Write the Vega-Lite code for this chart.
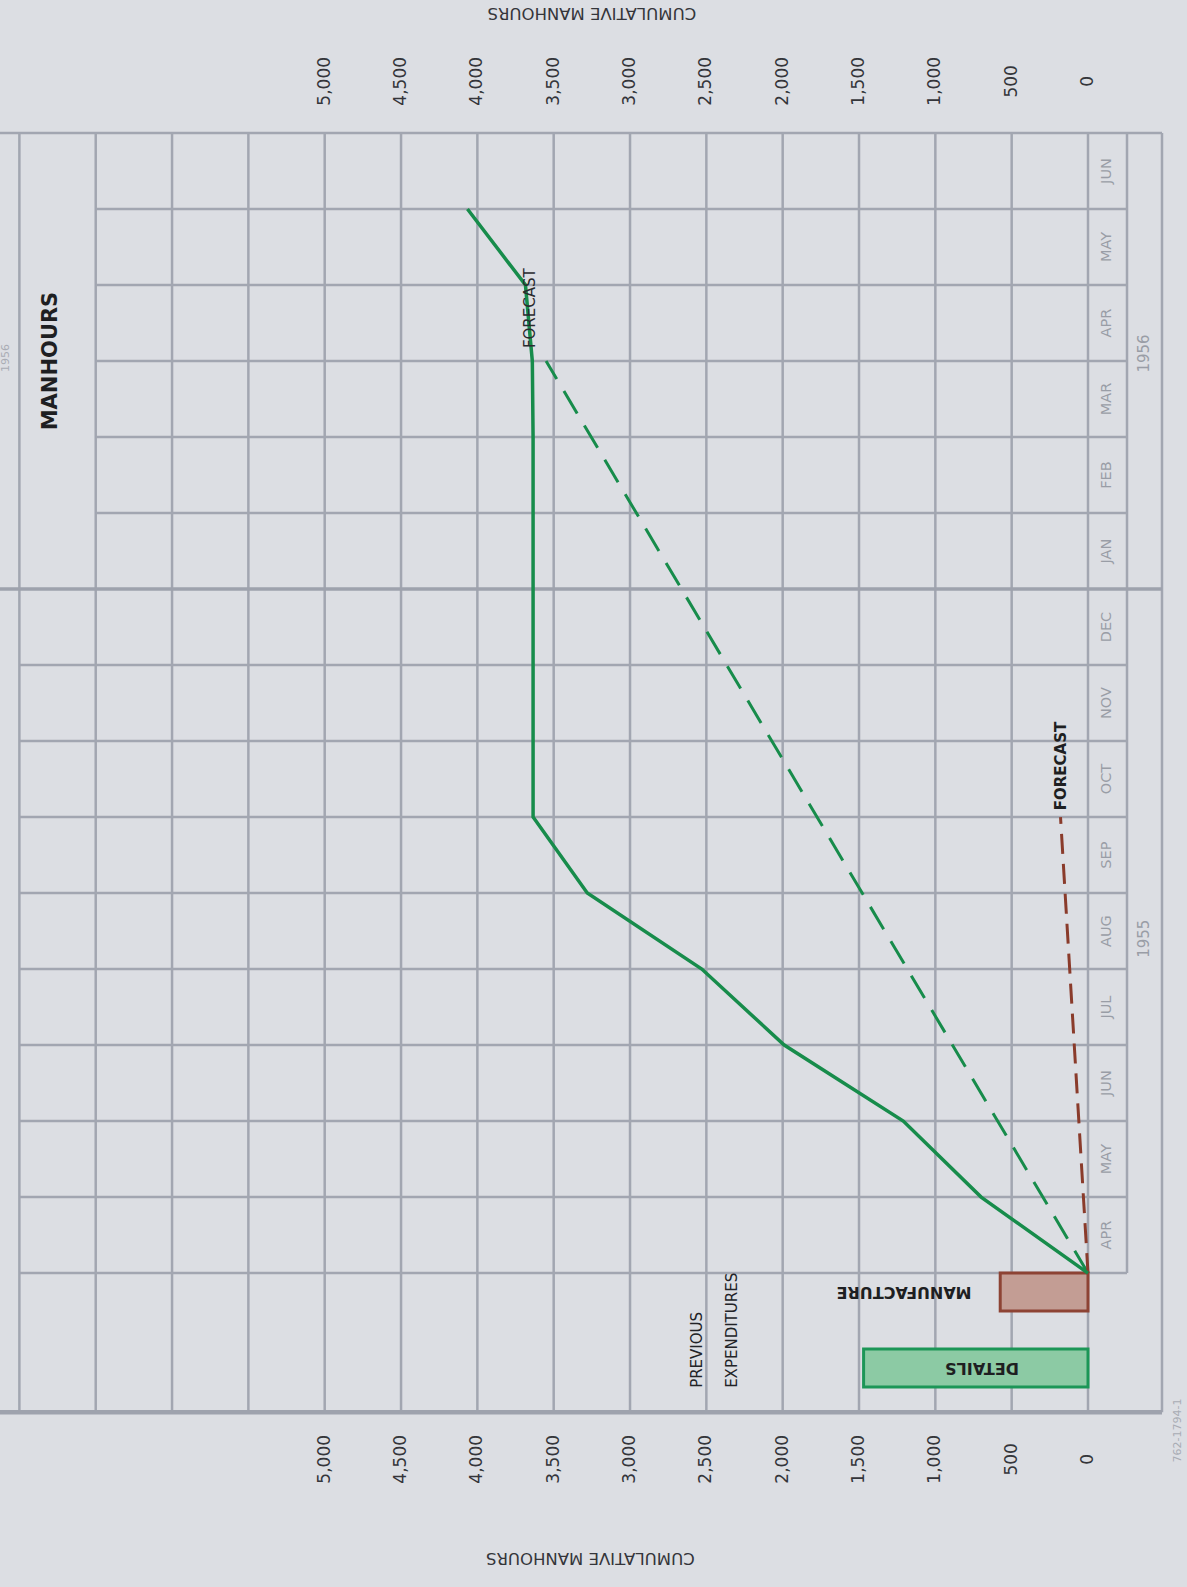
{
  "$schema": "https://vega.github.io/schema/vega-lite/v6.json",
  "width": 1187,
  "height": 1587,
  "padding": 0,
  "autosize": {"type": "none"},
  "background": "#dcdee3",
  "config": {"view": {"stroke": null}, "text": {"font": "DejaVu Sans"}},
  "datasets": {
    "vgrid": [
      {"v": 7000, "m": -1.83, "m2": 15}, {"v": 6500, "m": -1.83, "m2": 15}, {"v": 6000, "m": -1.83, "m2": 15},
      {"v": 5500, "m": -1.83, "m2": 15}, {"v": 5000, "m": -1.83, "m2": 15}, {"v": 4500, "m": -1.83, "m2": 15},
      {"v": 4000, "m": -1.83, "m2": 15}, {"v": 3500, "m": -1.83, "m2": 15}, {"v": 3000, "m": -1.83, "m2": 15},
      {"v": 2500, "m": -1.83, "m2": 15}, {"v": 2000, "m": -1.83, "m2": 15}, {"v": 1500, "m": -1.83, "m2": 15},
      {"v": 1000, "m": -1.83, "m2": 15}, {"v": 500, "m": -1.83, "m2": 15}, {"v": 0, "m": -1.83, "m2": 15},
      {"v": -255.5, "m": 0, "m2": 15}, {"v": -484.7, "m": -1.83, "m2": 15}
    ],
    "hgrid": [
      {"m": 15, "v": 7127, "v2": -484.7},
      {"m": 14, "v": 6500, "v2": -255.5}, {"m": 13, "v": 6500, "v2": -255.5}, {"m": 12, "v": 6500, "v2": -255.5},
      {"m": 11, "v": 6500, "v2": -255.5}, {"m": 10, "v": 6500, "v2": -255.5},
      {"m": 8, "v": 7000, "v2": -255.5}, {"m": 7, "v": 7000, "v2": -255.5}, {"m": 6, "v": 7000, "v2": -255.5},
      {"m": 5, "v": 7000, "v2": -255.5}, {"m": 4, "v": 7000, "v2": -255.5}, {"m": 3, "v": 7000, "v2": -255.5},
      {"m": 2, "v": 7000, "v2": -255.5}, {"m": 1, "v": 7000, "v2": -255.5}, {"m": 0, "v": 7000, "v2": -255.5}
    ],
    "ticks": [
      {"v": 0, "label": "0"}, {"v": 500, "label": "500"}, {"v": 1000, "label": "1,000"},
      {"v": 1500, "label": "1,500"}, {"v": 2000, "label": "2,000"}, {"v": 2500, "label": "2,500"},
      {"v": 3000, "label": "3,000"}, {"v": 3500, "label": "3,500"}, {"v": 4000, "label": "4,000"},
      {"v": 4500, "label": "4,500"}, {"v": 5000, "label": "5,000"}
    ]
  },
  "layer": [
    {
      "data": {"name": "vgrid"},
      "mark": {"type": "rule", "color": "#a2a6b1", "strokeWidth": 2.5},
      "encoding": {
        "x": {"field": "v", "type": "quantitative", "scale": {"domain": [-648.5, 7127], "reverse": true, "nice": false, "zero": false}, "axis": null},
        "y": {"field": "m", "type": "quantitative", "scale": {"domain": [-4.13, 16.75], "nice": false, "zero": false}, "axis": null},
        "y2": {"field": "m2"}
      }
    },
    {
      "data": {"name": "hgrid"},
      "mark": {"type": "rule", "color": "#a2a6b1", "strokeWidth": 2.5},
      "encoding": {
        "x": {"field": "v", "type": "quantitative", "scale": {"domain": [-648.5, 7127], "reverse": true, "nice": false, "zero": false}, "axis": null},
        "x2": {"field": "v2"},
        "y": {"field": "m", "type": "quantitative", "scale": {"domain": [-4.13, 16.75], "nice": false, "zero": false}, "axis": null}
      }
    },
    {
      "data": {"values": [{"m": 9, "v": 7127, "v2": -484.7}]},
      "mark": {"type": "rule", "color": "#9ea2ad", "strokeWidth": 3.5},
      "encoding": {
        "x": {"field": "v", "type": "quantitative", "scale": {"domain": [-648.5, 7127], "reverse": true, "nice": false, "zero": false}, "axis": null},
        "x2": {"field": "v2"},
        "y": {"field": "m", "type": "quantitative", "scale": {"domain": [-4.13, 16.75], "nice": false, "zero": false}, "axis": null}
      }
    },
    {
      "data": {"values": [{"m": -1.83, "v": 7127, "v2": -484.7}]},
      "mark": {"type": "rule", "color": "#9ea2ad", "strokeWidth": 4.5},
      "encoding": {
        "x": {"field": "v", "type": "quantitative", "scale": {"domain": [-648.5, 7127], "reverse": true, "nice": false, "zero": false}, "axis": null},
        "x2": {"field": "v2"},
        "y": {"field": "m", "type": "quantitative", "scale": {"domain": [-4.13, 16.75], "nice": false, "zero": false}, "axis": null}
      }
    },
    {
      "data": {"values": [
        {"item": "MANUFACTURE", "v": 0, "v2": 575, "m": 0, "m2": -0.5},
        {"item": "DETAILS", "v": 0, "v2": 1470, "m": -1.0, "m2": -1.5}
      ]},
      "mark": {"type": "rect", "strokeWidth": 3},
      "encoding": {
        "x": {"field": "v", "type": "quantitative", "scale": {"domain": [-648.5, 7127], "reverse": true, "nice": false, "zero": false}, "axis": null},
        "x2": {"field": "v2"},
        "y": {"field": "m", "type": "quantitative", "scale": {"domain": [-4.13, 16.75], "nice": false, "zero": false}, "axis": null},
        "y2": {"field": "m2"},
        "fill": {"field": "item", "type": "nominal", "scale": {"domain": ["DETAILS", "MANUFACTURE"], "range": ["#8ccaa4", "#c39d94"]}, "legend": null},
        "stroke": {"field": "item", "type": "nominal", "scale": {"domain": ["DETAILS", "MANUFACTURE"], "range": ["#1c9657", "#8d4334"]}, "legend": null}
      }
    },
    {
      "data": {"values": [{"v": 0, "m": 0}, {"v": 3550, "m": 12}]},
      "mark": {"type": "line", "color": "#178c4b", "strokeWidth": 3, "strokeDash": [26, 14]},
      "encoding": {
        "x": {"field": "v", "type": "quantitative", "scale": {"domain": [-648.5, 7127], "reverse": true, "nice": false, "zero": false}, "axis": null},
        "y": {"field": "m", "type": "quantitative", "scale": {"domain": [-4.13, 16.75], "nice": false, "zero": false}, "axis": null},
        "order": {"field": "m", "type": "quantitative"}
      }
    },
    {
      "data": {"values": [{"v": 0, "m": 0}, {"v": 180, "m": 6}]},
      "mark": {"type": "line", "color": "#8a3b2b", "strokeWidth": 3, "strokeDash": [20, 10]},
      "encoding": {
        "x": {"field": "v", "type": "quantitative", "scale": {"domain": [-648.5, 7127], "reverse": true, "nice": false, "zero": false}, "axis": null},
        "y": {"field": "m", "type": "quantitative", "scale": {"domain": [-4.13, 16.75], "nice": false, "zero": false}, "axis": null},
        "order": {"field": "m", "type": "quantitative"}
      }
    },
    {
      "data": {"values": [
        {"v": 0, "m": 0}, {"v": 700, "m": 1}, {"v": 1210, "m": 2}, {"v": 1990, "m": 3},
        {"v": 2530, "m": 4}, {"v": 3280, "m": 5}, {"v": 3635, "m": 6}, {"v": 3635, "m": 7},
        {"v": 3635, "m": 8}, {"v": 3635, "m": 9}, {"v": 3635, "m": 10}, {"v": 3635, "m": 11},
        {"v": 3640, "m": 12}, {"v": 3685, "m": 13}, {"v": 4065, "m": 14}
      ]},
      "mark": {"type": "line", "color": "#178c4b", "strokeWidth": 3.5},
      "encoding": {
        "x": {"field": "v", "type": "quantitative", "scale": {"domain": [-648.5, 7127], "reverse": true, "nice": false, "zero": false}, "axis": null},
        "y": {"field": "m", "type": "quantitative", "scale": {"domain": [-4.13, 16.75], "nice": false, "zero": false}, "axis": null},
        "order": {"field": "m", "type": "quantitative"}
      }
    },
    {
      "data": {"name": "ticks"},
      "mark": {"type": "text", "angle": 270, "fontSize": 17, "color": "#34353a", "align": "center", "baseline": "middle"},
      "encoding": {
        "x": {"field": "v", "type": "quantitative", "scale": {"domain": [-648.5, 7127], "reverse": true, "nice": false, "zero": false}, "axis": null},
        "y": {"datum": 15.68, "type": "quantitative", "scale": {"domain": [-4.13, 16.75], "nice": false, "zero": false}, "axis": null},
        "text": {"field": "label"}
      }
    },
    {
      "data": {"name": "ticks"},
      "mark": {"type": "text", "angle": 270, "fontSize": 17, "color": "#34353a", "align": "center", "baseline": "middle"},
      "encoding": {
        "x": {"field": "v", "type": "quantitative", "scale": {"domain": [-648.5, 7127], "reverse": true, "nice": false, "zero": false}, "axis": null},
        "y": {"datum": -2.45, "type": "quantitative", "scale": {"domain": [-4.13, 16.75], "nice": false, "zero": false}, "axis": null},
        "text": {"field": "label"}
      }
    },
    {
      "data": {"values": [
        {"label": "CUMULATIVE MANHOURS", "v": 3250, "m": 16.58},
        {"label": "CUMULATIVE MANHOURS", "v": 3260, "m": -3.75}
      ]},
      "mark": {"type": "text", "angle": 180, "fontSize": 16.5, "color": "#34353a", "align": "center", "baseline": "middle"},
      "encoding": {
        "x": {"field": "v", "type": "quantitative", "scale": {"domain": [-648.5, 7127], "reverse": true, "nice": false, "zero": false}, "axis": null},
        "y": {"field": "m", "type": "quantitative", "scale": {"domain": [-4.13, 16.75], "nice": false, "zero": false}, "axis": null},
        "text": {"field": "label"}
      }
    },
    {
      "data": {"values": [
        {"label": "APR", "m": 0.5}, {"label": "MAY", "m": 1.5}, {"label": "JUN", "m": 2.5},
        {"label": "JUL", "m": 3.5}, {"label": "AUG", "m": 4.5}, {"label": "SEP", "m": 5.5},
        {"label": "OCT", "m": 6.5}, {"label": "NOV", "m": 7.5}, {"label": "DEC", "m": 8.5},
        {"label": "JAN", "m": 9.5}, {"label": "FEB", "m": 10.5}, {"label": "MAR", "m": 11.5},
        {"label": "APR", "m": 12.5}, {"label": "MAY", "m": 13.5}, {"label": "JUN", "m": 14.5}
      ]},
      "mark": {"type": "text", "angle": 270, "fontSize": 14.5, "color": "#999da6", "align": "center", "baseline": "middle"},
      "encoding": {
        "x": {"datum": -127.7, "type": "quantitative", "scale": {"domain": [-648.5, 7127], "reverse": true, "nice": false, "zero": false}, "axis": null},
        "y": {"field": "m", "type": "quantitative", "scale": {"domain": [-4.13, 16.75], "nice": false, "zero": false}, "axis": null},
        "text": {"field": "label"}
      }
    },
    {
      "data": {"values": [{"label": "1955", "m": 4.4}, {"label": "1956", "m": 12.1}]},
      "mark": {"type": "text", "angle": 270, "fontSize": 15, "color": "#999da6", "align": "center", "baseline": "middle"},
      "encoding": {
        "x": {"datum": -370, "type": "quantitative", "scale": {"domain": [-648.5, 7127], "reverse": true, "nice": false, "zero": false}, "axis": null},
        "y": {"field": "m", "type": "quantitative", "scale": {"domain": [-4.13, 16.75], "nice": false, "zero": false}, "axis": null},
        "text": {"field": "label"}
      }
    },
    {
      "data": {"values": [{"label": "1956", "v": 7085, "m": 12.04}, {"label": "762-1794-1", "v": -590, "m": -2.07}]},
      "mark": {"type": "text", "angle": 270, "fontSize": 11, "color": "#a9acb4", "align": "center", "baseline": "middle"},
      "encoding": {
        "x": {"field": "v", "type": "quantitative", "scale": {"domain": [-648.5, 7127], "reverse": true, "nice": false, "zero": false}, "axis": null},
        "y": {"field": "m", "type": "quantitative", "scale": {"domain": [-4.13, 16.75], "nice": false, "zero": false}, "axis": null},
        "text": {"field": "label"}
      }
    },
    {
      "data": {"values": [{"label": "MANHOURS", "v": 6793, "m": 12.0}]},
      "mark": {"type": "text", "angle": 270, "fontSize": 21, "fontWeight": "bold", "color": "#1e1f22", "align": "center", "baseline": "middle"},
      "encoding": {
        "x": {"field": "v", "type": "quantitative", "scale": {"domain": [-648.5, 7127], "reverse": true, "nice": false, "zero": false}, "axis": null},
        "y": {"field": "m", "type": "quantitative", "scale": {"domain": [-4.13, 16.75], "nice": false, "zero": false}, "axis": null},
        "text": {"field": "label"}
      }
    },
    {
      "data": {"values": [{"label": "PREVIOUS", "v": 2561, "m": -1.51}, {"label": "EXPENDITURES", "v": 2332, "m": -1.51}]},
      "mark": {"type": "text", "angle": 270, "fontSize": 15, "color": "#222327", "align": "left", "baseline": "middle"},
      "encoding": {
        "x": {"field": "v", "type": "quantitative", "scale": {"domain": [-648.5, 7127], "reverse": true, "nice": false, "zero": false}, "axis": null},
        "y": {"field": "m", "type": "quantitative", "scale": {"domain": [-4.13, 16.75], "nice": false, "zero": false}, "axis": null},
        "text": {"field": "label"}
      }
    },
    {
      "data": {"values": [{"label": "MANUFACTURE", "v": 1205, "m": -0.25}, {"label": "DETAILS", "v": 694, "m": -1.25}]},
      "mark": {"type": "text", "angle": 180, "fontSize": 16, "fontWeight": "bold", "color": "#1e1f22", "align": "center", "baseline": "middle"},
      "encoding": {
        "x": {"field": "v", "type": "quantitative", "scale": {"domain": [-648.5, 7127], "reverse": true, "nice": false, "zero": false}, "axis": null},
        "y": {"field": "m", "type": "quantitative", "scale": {"domain": [-4.13, 16.75], "nice": false, "zero": false}, "axis": null},
        "text": {"field": "label"}
      }
    },
    {
      "data": {"values": [{"label": "FORECAST", "v": 177, "m": 6.09}]},
      "mark": {"type": "text", "angle": 270, "fontSize": 15, "fontWeight": "bold", "color": "#1e1f22", "align": "left", "baseline": "middle"},
      "encoding": {
        "x": {"field": "v", "type": "quantitative", "scale": {"domain": [-648.5, 7127], "reverse": true, "nice": false, "zero": false}, "axis": null},
        "y": {"field": "m", "type": "quantitative", "scale": {"domain": [-4.13, 16.75], "nice": false, "zero": false}, "axis": null},
        "text": {"field": "label"}
      }
    },
    {
      "data": {"values": [{"label": "FORECAST", "v": 3655, "m": 12.17}]},
      "mark": {"type": "text", "angle": 270, "fontSize": 15, "color": "#2a2b2f", "align": "left", "baseline": "middle"},
      "encoding": {
        "x": {"field": "v", "type": "quantitative", "scale": {"domain": [-648.5, 7127], "reverse": true, "nice": false, "zero": false}, "axis": null},
        "y": {"field": "m", "type": "quantitative", "scale": {"domain": [-4.13, 16.75], "nice": false, "zero": false}, "axis": null},
        "text": {"field": "label"}
      }
    }
  ]
}
